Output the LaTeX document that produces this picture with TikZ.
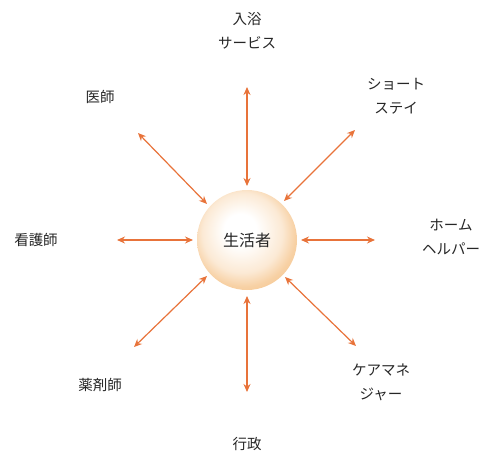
\documentclass[tikz,border=0pt]{standalone}
\usepackage{fontspec}
\setmainfont{Noto Sans CJK JP}
\usetikzlibrary{arrows.meta}
\definecolor{arr}{HTML}{E8733A}
\definecolor{ballout}{HTML}{F6C995}
\pgfdeclareradialshading{sphere}{\pgfpoint{-4bp}{6bp}}{%
  color(0bp)=(white); color(8bp)=(white); color(20bp)=(ballout!40); color(26bp)=(ballout!85); color(30bp)=(ballout); color(50bp)=(ballout)}
\tikzset{
  link/.style={draw=arr, line width=1.2pt, {Stealth[length=8pt,width=7pt]}-{Stealth[length=8pt,width=7pt]}},
  lbl/.style={font=\fontsize{14.5}{24}\selectfont, align=center, text=black!85, inner sep=0pt},
}
\begin{document}
\begin{tikzpicture}[x=1pt,y=-1pt]
\useasboundingbox (0,0) rectangle (488,458);
% ball
\shade[shading=sphere] (247,240) circle (50);
\node[lbl, font=\fontsize{16}{18}\selectfont] (c) at (247,240) {生活者};
% labels
\node[lbl] (n) at (247,31) {入浴\\サービス};
\node[lbl] (nw) at (100,97) {医師};
\node[lbl] (ne) at (396,96) {ショート\\ステイ};
\node[lbl] (w) at (36,240) {看護師};
\node[lbl] (e) at (451,237) {ホーム\\ヘルパー};
\node[lbl] (sw) at (100,385) {薬剤師};
\node[lbl] (se) at (381,382) {ケアマネ\\ジャー};
\node[lbl] (s) at (247,444) {行政};
% arrow endpoints
\coordinate (n1) at (247,87);   \coordinate (n2) at (247,186);
\coordinate (s1) at (247,392);  \coordinate (s2) at (247,296);
\coordinate (w1) at (117,240);  \coordinate (w2) at (193,240);
\coordinate (e1) at (375,240);  \coordinate (e2) at (301,240);
\coordinate (nw1) at (138,133); \coordinate (nw2) at (207,204);
\coordinate (ne1) at (355,130); \coordinate (ne2) at (284,201);
\coordinate (sw1) at (134,347); \coordinate (sw2) at (207,276);
\coordinate (se1) at (356,346); \coordinate (se2) at (285,277);
\draw[link] (n1) -- (n2);
\draw[link] (s1) -- (s2);
\draw[link] (w1) -- (w2);
\draw[link] (e1) -- (e2);
\draw[link] (nw1) -- (nw2);
\draw[link] (ne1) -- (ne2);
\draw[link] (sw1) -- (sw2);
\draw[link] (se1) -- (se2);
\end{tikzpicture}
\end{document}
